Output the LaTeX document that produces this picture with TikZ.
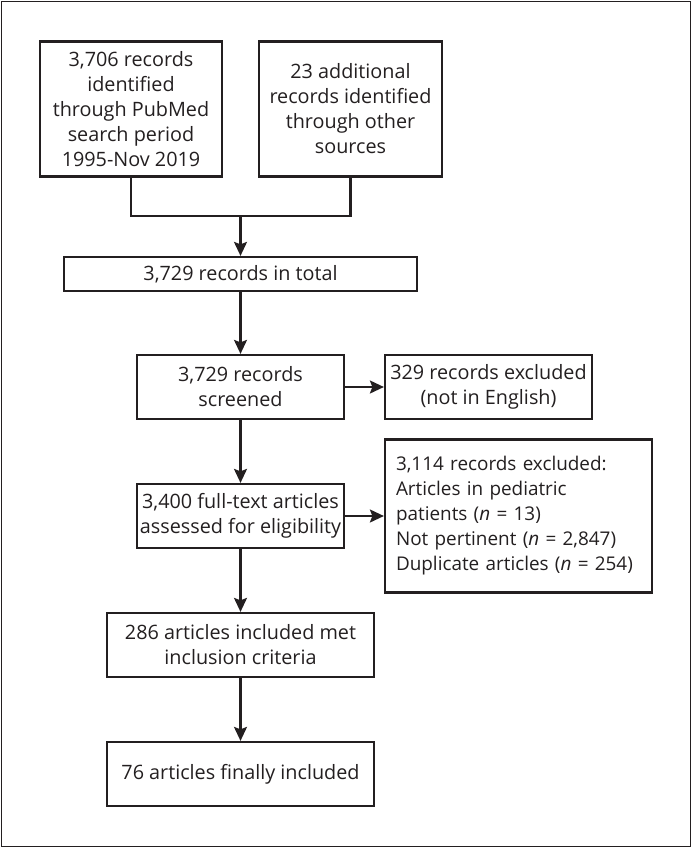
\documentclass[tikz,border=0pt]{standalone}
\usepackage{fontspec}
\setmainfont{Open Sans}
\usetikzlibrary{arrows.meta}
\definecolor{ink}{RGB}{35,31,32}
\begin{document}
\begin{tikzpicture}[x=1pt,y=-1pt,
  box/.style={draw=ink,line width=2.2pt,inner sep=0pt,align=center,text=ink,
    font=\fontsize{19.8}{25}\selectfont},
  arr/.style={draw=ink,line width=2.2pt,-{Stealth[length=14pt,width=13pt,inset=2.5pt]}},
  ln/.style={draw=ink,line width=2.2pt}]
\useasboundingbox (0,0) rectangle (692,848);
\draw[draw=ink,line width=1.6pt] (1.5,1.5) rectangle (690.5,846.5);
\node[box,minimum width=182pt,minimum height=135pt] (b1) at (131,109)
  {3,706 records\\identified\\through PubMed\\search period\\1995-Nov 2019};
\node[box,minimum width=183pt,minimum height=135pt] (b2) at (350.5,109)
  {23 additional\\records identified\\through other\\sources};
\node[box,minimum width=353pt,minimum height=34pt] (b3) at (240.5,274)
  {3,729 records in total};
\node[box,minimum width=207pt,minimum height=64pt] (b4) at (240.5,387)
  {3,729 records\\screened};
\node[box,minimum width=207pt,minimum height=64pt] (b5) at (488.5,387)
  {329 records excluded\\(not in English)};
\node[box,minimum width=207pt,minimum height=64pt] (b6) at (240.5,516)
  {3,400 full-text articles\\assessed for eligibility};
\node[box,minimum width=267pt,minimum height=153pt,align=left,text width=245pt,
  font=\fontsize{18.9}{25}\selectfont] (b7) at (518.5,516)
  {3,114~records~excluded:\\Articles~in~pediatric\\patients~(\textit{n}~=~13)\\Not~pertinent~(\textit{n}~=~2,847)\\Duplicate~articles~(\textit{n}~=~254)};
\node[box,minimum width=267pt,minimum height=64pt] (b8) at (240.5,645)
  {286 articles included met\\inclusion criteria};
\node[box,minimum width=267pt,minimum height=64pt] (b9) at (240.5,774)
  {76 articles finally included};
\coordinate (j) at (240.5,216);
\draw[ln] (b1.south) |- (j) -| (b2.south);
\draw[arr] (j) -- (b3.north);
\draw[arr] (b3.south) -- (b4.north);
\draw[arr] (b4.east) -- (b5.west);
\draw[arr] (b4.south) -- (b6.north);
\draw[arr] (b6.east) -- (b6.east -| b7.west);
\draw[arr] (b6.south) -- (b8.north);
\draw[arr] (b8.south) -- (b9.north);
\end{tikzpicture}
\end{document}
